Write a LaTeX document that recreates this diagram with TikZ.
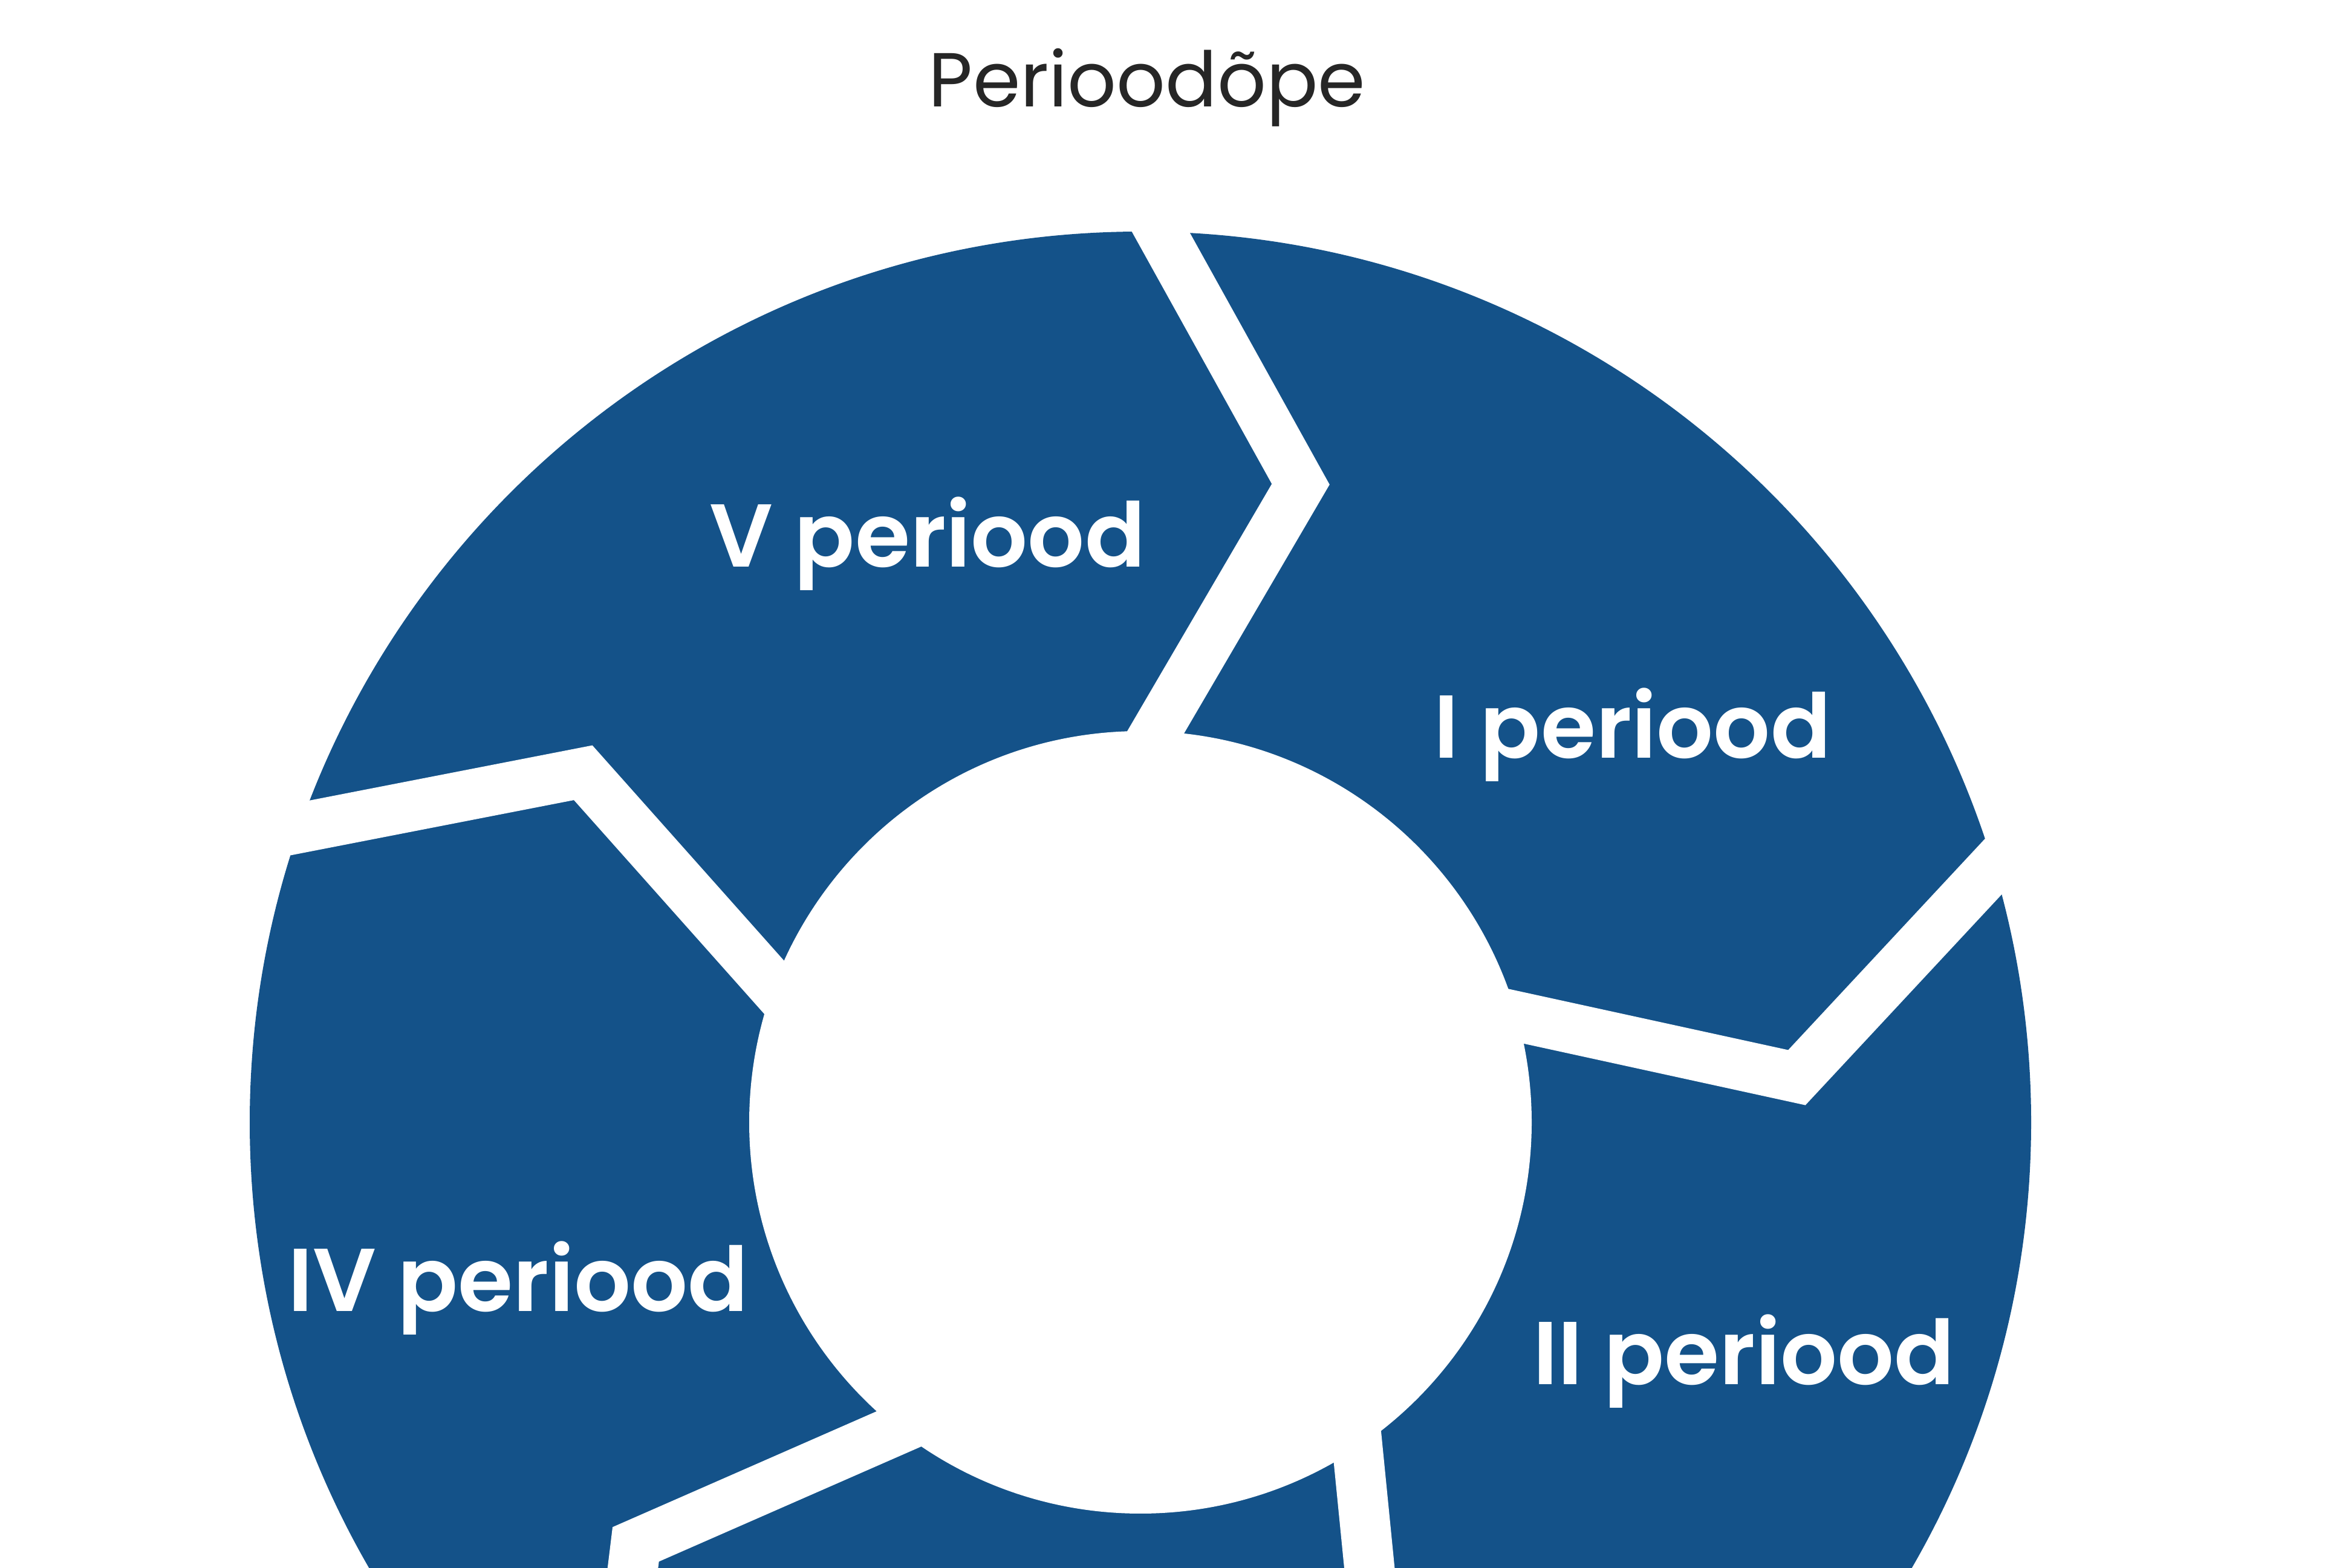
\documentclass[tikz,border=0pt]{standalone}
\usepackage{fontspec}
\setmainfont{Poppins}
\IfFontExistsTF{Poppins SemiBold}
  {\newfontfamily\periodfont{Poppins SemiBold}}
  {\newfontfamily\periodfont{Poppins}[UprightFont=*-Bold]}
\usepackage{tikz}
\usetikzlibrary{calc}
\definecolor{ringblue}{RGB}{20,82,137}

\begin{document}
\begin{tikzpicture}[
    periodtext/.style={anchor=base, text=white, font=\fontsize{42}{50}\periodfont},
    gapline/.style={draw=white, line width=0.83cm, line join=miter}
  ]
  \useasboundingbox (0,0) rectangle (38.88,25.92);
  \clip (0,0) rectangle (38.88,25.92);

  \node[anchor=base, text=black!85, font=\fontsize{36}{44}\selectfont] (title) at (18.97,24.15) {Perioodõpe};

  \begin{scope}[shift={(18.86,7.36)}]
    \fill[ringblue] (0,0) circle (14.73);
    \foreach \k in {0,...,4} {
      \coordinate (o) at (88.7-72*\k:14.73);
      \coordinate (t) at (75.9-72*\k:10.88);
      \coordinate (i) at (87.7-72*\k:6.47);
      \draw[gapline] ($(t)!1.3!(o)$) -- (t) -- ($(t)!1.3!(i)$);
    }
    \fill[white] (0,0) circle (6.47);
  \end{scope}

  \node[periodtext] (p5) at (15.34,16.54) {V periood};
  \node[periodtext] (p1) at (27.00,13.38) {I periood};
  \node[periodtext] (p2) at (28.84,3.02) {II periood};
  \node[periodtext] (p4) at (8.57,4.23) {IV periood};
\end{tikzpicture}
\end{document}
